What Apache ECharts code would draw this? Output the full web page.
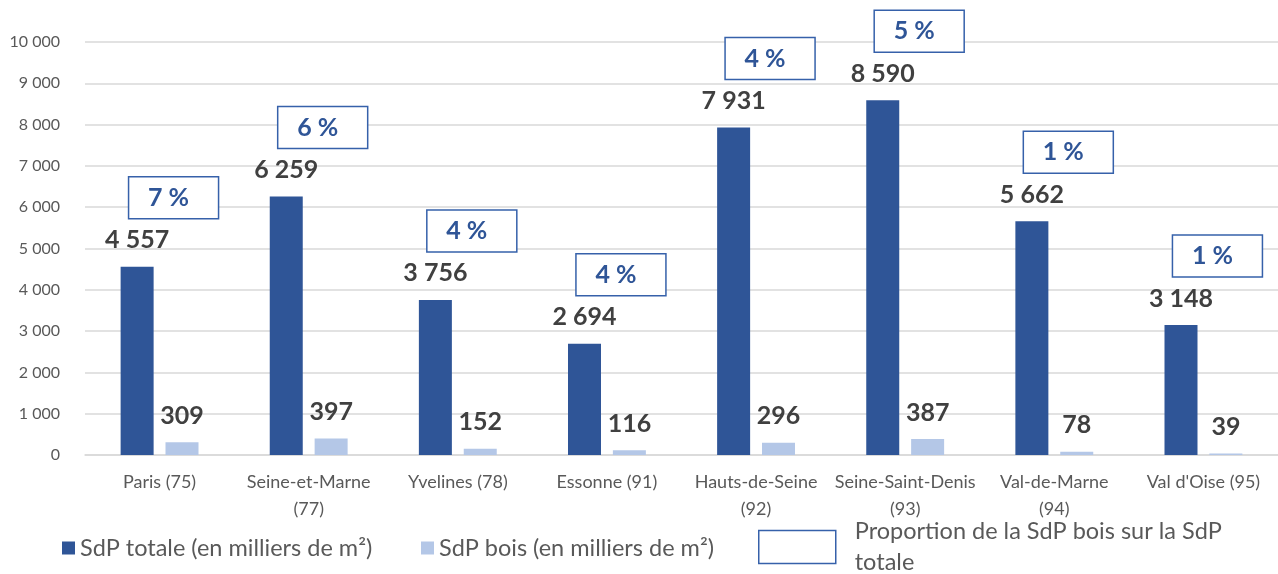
<!DOCTYPE html>
<html>
<head>
<meta charset="utf-8">
<script src="https://cdn.jsdelivr.net/npm/echarts@6/dist/echarts.min.js"></script>
<style>
  html, body { margin: 0; padding: 0; background: #fff; }
  #chart { width: 1278px; height: 574px; }
</style>
</head>
<body>
<div id="chart"></div>
<script>
const categories = ['Paris (75)', 'Seine-et-Marne\n(77)', 'Yvelines (78)', 'Essonne (91)', 'Hauts-de-Seine\n(92)', 'Seine-Saint-Denis\n(93)', 'Val-de-Marne\n(94)', "Val d'Oise (95)"];
const sdpTotale = [4557, 6259, 3756, 2694, 7931, 8590, 5662, 3148];
const sdpBois = [309, 397, 152, 116, 296, 387, 78, 39];
const proportion = [7, 6, 4, 4, 4, 5, 1, 1];
const seriesNames = ['SdP totale (en milliers de m²)', 'SdP bois (en milliers de m²)', 'Proportion de la SdP bois sur la SdP totale'];

const FONT = 'Lato, "Open Sans", "Noto Sans", sans-serif';
const DARK = '#2f5597';
const LIGHT = '#b4c7e7';
const BOX = '#3661aa';
const fmt = v => String(v).replace(/\B(?=(\d{3})+(?!\d))/g, ' ');

const chart = echarts.init(document.getElementById('chart'));
const valueLabel = {
  show: true, position: 'top', distance: 14,
  fontFamily: FONT, fontSize: 25, fontWeight: 'bold', color: '#404040', lineHeight: 25,
  formatter: p => fmt(p.value)
};

chart.setOption({
  animation: false,
  grid: { left: 85, top: 42, width: 1197, height: 413, containLabel: false },
  xAxis: {
    type: 'category', data: categories,
    axisLine: { lineStyle: { color: '#d9d9d9', width: 1.5 } },
    axisTick: { show: false },
    axisLabel: { interval: 0, margin: 14, color: '#595959', fontFamily: FONT, fontSize: 18, lineHeight: 27 }
  },
  yAxis: {
    type: 'value', min: 0, max: 10000, interval: 1000,
    axisLine: { show: false }, axisTick: { show: false },
    splitLine: { lineStyle: { color: '#d9d9d9', width: 1.5 } },
    axisLabel: { margin: 25, color: '#595959', fontFamily: FONT, fontSize: 16, formatter: fmt }
  },
  legend: [
    { data: [seriesNames[0]], left: 57, top: 531, itemWidth: 13, itemHeight: 13, icon: 'rect',
      textStyle: { fontFamily: FONT, fontSize: 23.5, color: '#595959' } },
    { data: [seriesNames[1]], left: 416, top: 531, itemWidth: 13, itemHeight: 13, icon: 'rect',
      textStyle: { fontFamily: FONT, fontSize: 23.5, color: '#595959' } },
    { data: [{ name: seriesNames[2], icon: 'rect', itemStyle: { color: '#ffffff', borderColor: BOX, borderWidth: 1.5 } }],
      left: 753, top: 511, itemWidth: 77, itemHeight: 33,
      formatter: () => 'Proportion de la SdP bois sur la SdP\ntotale',
      textStyle: { fontFamily: FONT, fontSize: 23.5, color: '#595959', lineHeight: 31, padding: [0, 0, 0, 14] } }
  ],
  series: [
    { name: seriesNames[0], type: 'bar', data: sdpTotale, barWidth: 33, barGap: '36%',
      itemStyle: { color: DARK }, label: valueLabel },
    { name: seriesNames[1], type: 'bar', data: sdpBois, barWidth: 33,
      itemStyle: { color: LIGHT }, label: valueLabel },
    { name: seriesNames[2], type: 'custom',
      data: categories.map((c, i) => [i, sdpTotale[i], proportion[i]]),
      itemStyle: { color: '#ffffff', borderColor: BOX },
      renderItem: (params, api) => {
        const pt = api.coord([api.value(0), api.value(1)]);
        const cx = pt[0] + 14, cy = pt[1] - 69;
        return {
          type: 'group',
          children: [
            { type: 'rect', shape: { x: cx - 45, y: cy - 21, width: 90, height: 42 },
              style: { fill: '#ffffff', stroke: BOX, lineWidth: 1.5 } },
            { type: 'text', x: cx - 5, y: cy,
              style: { text: api.value(2) + ' %', fill: DARK, font: 'bold 25px ' + FONT,
                       textAlign: 'center', textVerticalAlign: 'middle' } }
          ]
        };
      }
    }
  ]
});
</script>
</body>
</html>
